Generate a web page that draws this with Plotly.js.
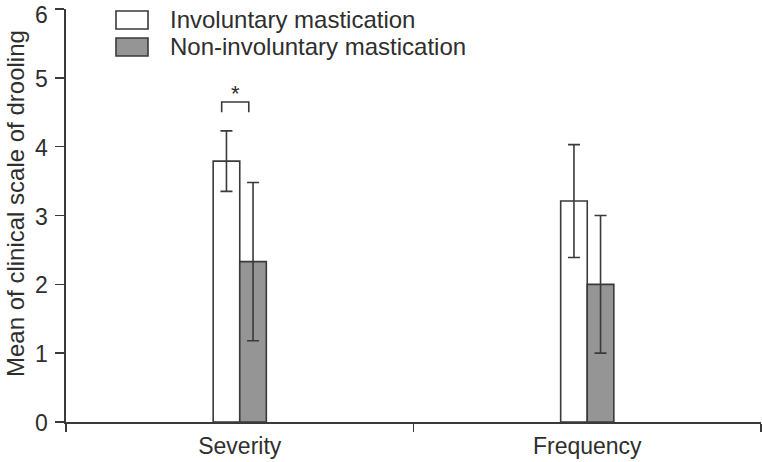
<!DOCTYPE html>
<html>
<head>
<meta charset="utf-8">
<script src="https://cdn.plot.ly/plotly-3.0.1.min.js"></script>
<style>html,body{margin:0;padding:0;background:#fff}#chart{width:762px;height:462px}</style>
</head>
<body>
<div id="chart"></div>
<script>
const categories = ["Severity", "Frequency"];
const seriesNames = ["Involuntary mastication", "Non-involuntary mastication"];
const involuntary = [3.79, 3.21];
const involuntaryErr = [0.44, 0.82];
const nonInvoluntary = [2.33, 2.0];
const nonInvoluntaryErr = [1.15, 1.0];
const yTicks = [0, 1, 2, 3, 4, 5, 6];
const yTitle = "Mean of clinical scale of drooling";
const fills = ["#ffffff", "#959595"];

const FONT = "Liberation Sans, Arial, Helvetica, sans-serif";
const LINE = "#3a3a3a";
const TXT = "#2e2e2e";

function barTrace(name, vals, errs, fill) {
  return {
    type: "bar", name: name, x: categories, y: vals,
    marker: {color: fill, line: {color: LINE, width: 1.6}},
    error_y: {type: "data", array: errs, visible: true, color: LINE, thickness: 1.6, width: 6},
    showlegend: false, hoverinfo: "skip"
  };
}

const data = [
  barTrace(seriesNames[0], involuntary, involuntaryErr, fills[0]),
  barTrace(seriesNames[1], nonInvoluntary, nonInvoluntaryErr, fills[1])
];

const shapes = [
  // significance bracket
  {type: "path", xref: "x", yref: "y", path: "M -0.052 4.5 L -0.052 4.65 L 0.026 4.65 L 0.026 4.5",
   line: {color: LINE, width: 1.6}},
  // legend boxes
  {type: "rect", xref: "paper", yref: "paper", x0: (116-66)/695, x1: (148-66)/695,
   y0: (422-29)/413, y1: (422-11)/413, fillcolor: fills[0], line: {color: LINE, width: 1.6}},
  {type: "rect", xref: "paper", yref: "paper", x0: (116-66)/695, x1: (148-66)/695,
   y0: (422-56)/413, y1: (422-38)/413, fillcolor: fills[1], line: {color: LINE, width: 1.6}}
];

const annotations = [
  {x: -0.012, y: 4.77, xref: "x", yref: "y", text: "*", showarrow: false,
   font: {family: FONT, size: 22, color: TXT}, yanchor: "middle"},
  {x: (168-66)/695, y: (422-20)/413, xref: "paper", yref: "paper", text: seriesNames[0],
   showarrow: false, xanchor: "left", yanchor: "middle", font: {family: FONT, size: 24, color: TXT}},
  {x: (168-66)/695, y: (422-47)/413, xref: "paper", yref: "paper", text: seriesNames[1],
   showarrow: false, xanchor: "left", yanchor: "middle", font: {family: FONT, size: 24, color: TXT}},
  {x: (15-66)/695, y: (422-204)/413, xref: "paper", yref: "paper", text: yTitle, textangle: -90,
   showarrow: false, xanchor: "center", yanchor: "middle", font: {family: FONT, size: 24, color: TXT}}
];
const yMax = yTicks[yTicks.length - 1];
yTicks.forEach(function (v) {
  const top = (v === yMax);
  annotations.push({x: 0, y: v, xref: "paper", yref: "y", text: String(v), showarrow: false,
    xanchor: "right", yanchor: top ? "top" : "middle", xshift: -16, yshift: top ? 9 : -1,
    font: {family: FONT, size: 23, color: TXT}});
});

const layout = {
  width: 762, height: 462,
  margin: {l: 66, r: 1, t: 9, b: 40, pad: 0},
  paper_bgcolor: "#fff", plot_bgcolor: "#fff",
  barmode: "group", bargap: 0.847, bargroupgap: 0,
  font: {family: FONT, size: 22, color: TXT},
  xaxis: {
    type: "category", range: [-0.5, 1.5], tickson: "boundaries",
    ticks: "outside", ticklen: 8, tickwidth: 1.6, tickcolor: LINE,
    showline: true, linecolor: LINE, linewidth: 1.6, showgrid: false, zeroline: false,
    tickfont: {family: FONT, size: 23, color: TXT}, ticklabelstandoff: 3, fixedrange: true
  },
  yaxis: {
    range: [0, 6], tickvals: yTicks, ticks: "outside", ticklen: 9, tickwidth: 1.6, tickcolor: LINE,
    showline: true, linecolor: LINE, linewidth: 1.6, showgrid: false, zeroline: false,
    showticklabels: false, fixedrange: true
  },
  shapes: shapes,
  annotations: annotations
};

Plotly.newPlot("chart", data, layout, {displayModeBar: false, staticPlot: true});
</script>
</body>
</html>
